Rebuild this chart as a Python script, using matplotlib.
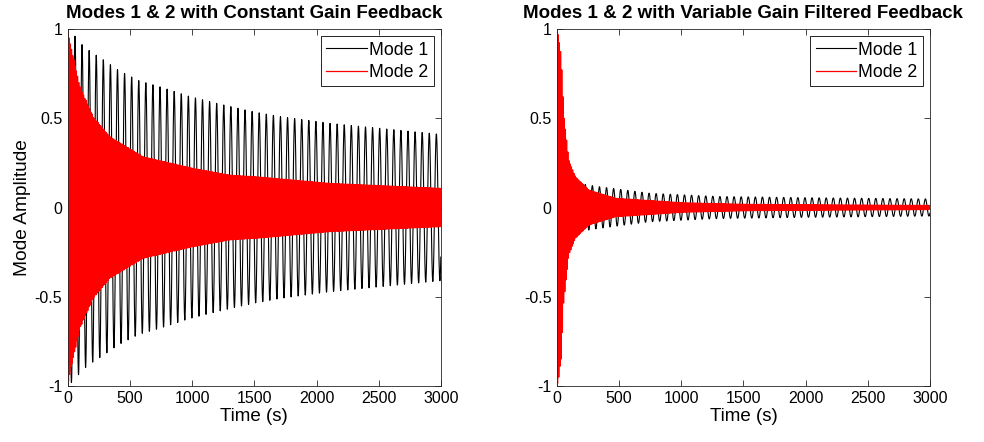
import numpy as np
import matplotlib
matplotlib.use("Agg")
import matplotlib.pyplot as plt

plt.rcParams['font.family'] = ['Liberation Sans', 'DejaVu Sans']
plt.rcParams['axes.unicode_minus'] = False

# envelope readings (time s, amplitude)
# left panel: constant gain feedback
cg_m1_t = [0, 62, 118, 177, 290, 405, 574, 740, 968, 1196, 1491, 1714, 2108, 2510, 3000]
cg_m1_a = [1.0, 0.957, 0.91, 0.877, 0.826, 0.77, 0.71, 0.677, 0.625, 0.584, 0.537, 0.509, 0.472, 0.444, 0.41]
cg_m2_t = [0, 16, 97, 204, 338, 606, 1008, 1303, 1518, 2108, 3000]
cg_m2_a = [1.0, 0.93, 0.677, 0.509, 0.397, 0.285, 0.22, 0.182, 0.173, 0.136, 0.108]

# right panel: variable gain filtered feedback
vg_m1_t = [0, 100, 163, 340, 745, 1286, 2000, 3000]
vg_m1_a = [0.2, 0.14, 0.136, 0.117, 0.08, 0.062, 0.055, 0.048]
vg_m2_t = [0, 8, 35, 54, 95, 148, 257, 473, 1013, 1553, 3000]
vg_m2_a = [1.0, 0.985, 0.845, 0.53, 0.266, 0.173, 0.098, 0.052, 0.027, 0.018, 0.012]

period_m1 = 57.0   # s
period_m2 = 9.7    # s
t_end = 3000

t = np.arange(0, t_end + 0.5, 0.5)
carrier1 = np.cos(2 * np.pi * t / period_m1)
carrier2 = np.cos(2 * np.pi * t / period_m2)

panels = [
    ("Modes 1 & 2 with Constant Gain Feedback", cg_m1_t, cg_m1_a, cg_m2_t, cg_m2_a),
    ("Modes 1 & 2 with Variable Gain Filtered Feedback", vg_m1_t, vg_m1_a, vg_m2_t, vg_m2_a),
]

fig = plt.figure(figsize=(9.84, 4.42), dpi=100)
lefts = [0.069, 0.566]
for i, (title, t1, a1, t2, a2) in enumerate(panels):
    ax = fig.add_axes([lefts[i], 0.127, 0.379, 0.807])
    y1 = np.interp(t, t1, a1) * carrier1
    y2 = np.interp(t, t2, a2) * carrier2
    ax.plot(t, y1, color='k', lw=0.8, label='Mode 1')
    ax.plot(t, y2, color='r', lw=0.9, label='Mode 2')
    ax.set_xlim(0, t_end)
    ax.set_ylim(-1, 1)
    ax.set_xticks(np.arange(0, 3001, 500))
    ax.set_yticks([-1, -0.5, 0, 0.5, 1])
    ax.set_yticklabels(['-1', '-0.5', '0', '0.5', '1'])
    ax.tick_params(direction='in', top=True, right=True, labelsize=11.5,
                   color='#262626', length=4, width=0.6, pad=4)
    for s in ax.spines.values():
        s.set_color('#262626')
        s.set_linewidth(0.6)
    ax.set_xlabel('Time (s)', fontsize=13.5, labelpad=1)
    if i == 0:
        ax.set_ylabel('Mode Amplitude', fontsize=13.8, labelpad=3)
    ax.set_title(title, fontsize=13.5, fontweight='bold', pad=8)
    leg = ax.legend(loc='upper right', fontsize=12.8, fancybox=False,
                    framealpha=1, edgecolor='k', borderpad=0.3,
                    handlelength=2.3, handletextpad=0.1, labelspacing=0.3,
                    borderaxespad=0.4)
    leg.get_frame().set_linewidth(0.6)

fig.savefig('out.png', dpi=100)
